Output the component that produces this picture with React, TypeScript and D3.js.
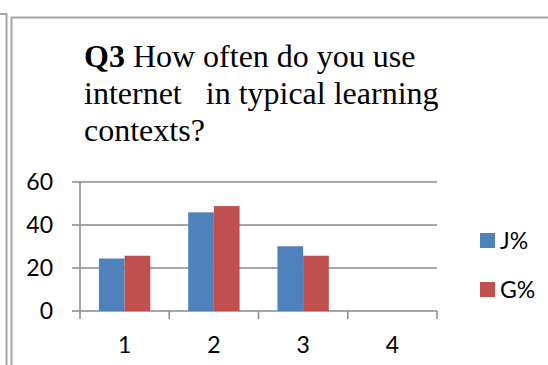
import React from "react";
import * as d3 from "d3";

const categories = ["1", "2", "3", "4"];
const seriesNames = ["J%", "G%"];
const jValues = [24.4, 45.9, 30.1, 0];
const gValues = [25.7, 48.8, 25.7, 0];
const yTicks = [0, 20, 40, 60];
const colors = ["#4f81bd", "#c0504d"];

const W = 548;
const H = 365;
const plotLeft = 80;
const plotRight = 437;
const plotTop = 182;
const plotBottom = 311;

export default function App() {
  const x0 = d3.scaleBand<string>().domain(categories).range([plotLeft, plotRight]).paddingInner(0).paddingOuter(0);
  const x1 = d3.scaleBand<string>().domain(seriesNames).range([0, x0.bandwidth()]).paddingInner(0).paddingOuter(0.737);
  const y = d3.scaleLinear().domain([0, 60]).range([plotBottom, plotTop]);
  const seriesValues = [jValues, gValues];
  const grid = "#8a8a8a";
  const tickFont = "Lato, 'Open Sans', sans-serif";

  return (
    <svg
      width={W}
      height={H}
      style={{ position: "fixed", left: 0, top: 0, background: "#fff" }}
    >
      {/* frames */}
      <path d={`M0,14 H6.5 V${H}`} fill="none" stroke="#a6a6a6" strokeWidth={2} />
      <path d={`M11.5,${H} V17.5 H${W}`} fill="none" stroke="#a6a6a6" strokeWidth={2} />

      {/* title */}
      <text fontFamily="'Liberation Serif', 'Times New Roman', serif" fontSize={32} fill="#000" style={{ whiteSpace: "pre" }}>
        <tspan x={84} y={67}>
          <tspan fontWeight="bold">Q3</tspan>
          <tspan> How often do you use</tspan>
        </tspan>
        <tspan x={84} y={104}>{"internet   in typical learning"}</tspan>
        <tspan x={84} y={141}>contexts?</tspan>
      </text>

      {/* gridlines */}
      {yTicks.map((t) => (
        <line key={"g" + t} x1={plotLeft - 8} x2={plotRight} y1={y(t)} y2={y(t)} stroke={grid} strokeWidth={1.5} />
      ))}
      {/* y axis */}
      <line x1={plotLeft} x2={plotLeft} y1={plotTop} y2={plotBottom} stroke={grid} strokeWidth={1.5} />
      {/* x ticks */}
      {[...categories.map((c) => x0(c) as number), plotRight].map((xx, i) => (
        <line key={"xt" + i} x1={xx} x2={xx} y1={plotBottom} y2={plotBottom + 8} stroke={grid} strokeWidth={1.5} />
      ))}

      {/* bars */}
      {categories.map((c, ci) =>
        seriesNames.map((s, si) => {
          const v = seriesValues[si][ci];
          if (v <= 0) return null;
          return (
            <rect
              key={c + s}
              x={(x0(c) as number) + (x1(s) as number)}
              y={y(v)}
              width={x1.bandwidth()}
              height={plotBottom - y(v)}
              fill={colors[si]}
            />
          );
        })
      )}

      {/* y labels */}
      {yTicks.map((t) => (
        <text key={"yl" + t} x={53} y={y(t)} dy="0.36em" textAnchor="end" fontFamily={tickFont} fontSize={23} fill="#000">
          {t}
        </text>
      ))}
      {/* x labels */}
      {categories.map((c) => (
        <text key={"xl" + c} x={(x0(c) as number) + x0.bandwidth() / 2} y={353} textAnchor="middle" fontFamily={tickFont} fontSize={23} fill="#000">
          {c}
        </text>
      ))}

      {/* legend */}
      {seriesNames.map((s, i) => (
        <g key={"lg" + s} transform={`translate(480, ${233 + i * 49})`}>
          <rect x={0} y={0} width={15} height={15} fill={colors[i]} />
          <text x={20} y={15.5} fontFamily={tickFont} fontSize={23} fill="#000">
            {s}
          </text>
        </g>
      ))}
    </svg>
  );
}
